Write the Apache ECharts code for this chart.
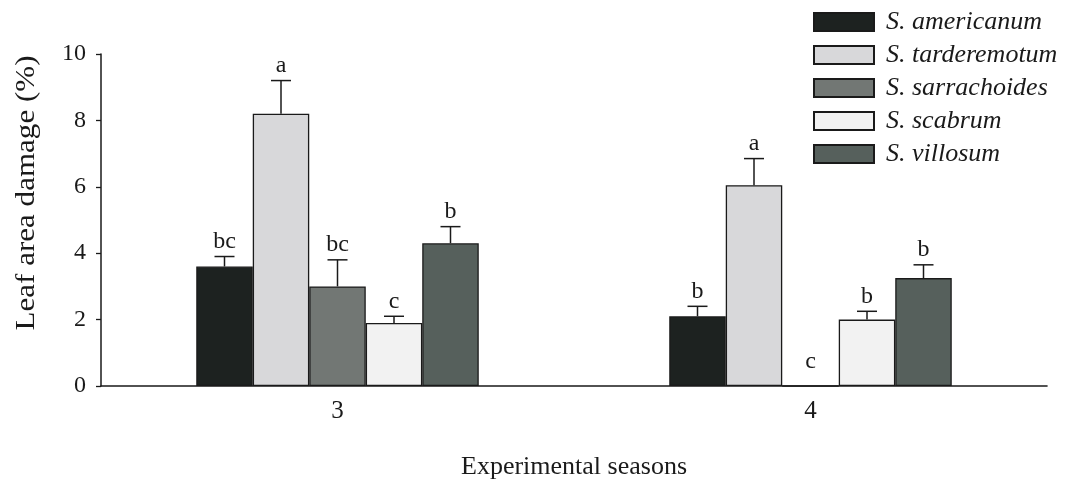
<!DOCTYPE html>
<html>
<head>
<meta charset="utf-8">
<script src="https://cdn.jsdelivr.net/npm/echarts@6/dist/echarts.min.js"></script>
<style>html,body{margin:0;padding:0;background:#fff}#c{width:1067px;height:481px}</style>
</head>
<body>
<div id="c"></div>
<script>
const categories = ['3', '4'];
const speciesNames = ['S. americanum', 'S. tarderemotum', 'S. sarrachoides', 'S. scabrum', 'S. villosum'];
const americanumMean = [3.6, 2.1];
const tarderemotumMean = [8.2, 6.05];
const sarrachoidesMean = [3.0, 0];
const scabrumMean = [1.9, 2.0];
const villosumMean = [4.3, 3.25];
const americanumErr = [0.3, 0.3];
const tarderemotumErr = [1.0, 0.8];
const sarrachoidesErr = [0.8, 0];
const scabrumErr = [0.2, 0.25];
const villosumErr = [0.5, 0.4];
const americanumLetters = ['bc', 'b'];
const tarderemotumLetters = ['a', 'a'];
const sarrachoidesLetters = ['bc', 'c'];
const scabrumLetters = ['c', 'b'];
const villosumLetters = ['b', 'b'];
const yTicks = [0, 2, 4, 6, 8, 10];

const means = [americanumMean, tarderemotumMean, sarrachoidesMean, scabrumMean, villosumMean];
const errs = [americanumErr, tarderemotumErr, sarrachoidesErr, scabrumErr, villosumErr];
const letters = [americanumLetters, tarderemotumLetters, sarrachoidesLetters, scabrumLetters, villosumLetters];
const colors = ['#1d2220', '#d8d8da', '#727774', '#f2f2f2', '#56605c'];
const BAR_W = 56.5;
const FONT = '"Liberation Serif", "DejaVu Serif", serif';

const series = [];
speciesNames.forEach((name, i) => {
  series.push({
    type: 'bar', name: name, data: means[i], barWidth: BAR_W, barGap: '0%',
    itemStyle: { color: colors[i], borderColor: '#1a1a1a', borderWidth: 1.3 },
    emphasis: { disabled: true }
  });
});
speciesNames.forEach((name, i) => {
  series.push({
    type: 'custom', name: name + ' err', z: 5,
    data: categories.map((c, k) => [k, means[i][k], means[i][k] + errs[i][k]]),
    renderItem: function (params, api) {
      const k = api.value(0);
      const top = api.coord([k, api.value(1)]);
      const hi = api.coord([k, api.value(2)]);
      const x = top[0] + (i - 2) * BAR_W;
      const children = [];
      if (errs[i][k] > 0) {
        children.push({ type: 'line', shape: { x1: x, y1: top[1], x2: x, y2: hi[1] }, style: { stroke: '#1a1a1a', lineWidth: 1.5 } });
        children.push({ type: 'line', shape: { x1: x - 10, y1: hi[1], x2: x + 10, y2: hi[1] }, style: { stroke: '#1a1a1a', lineWidth: 1.5 } });
      }
      const ty = errs[i][k] > 0 ? hi[1] - 3 : hi[1] - 12;
      children.push({ type: 'text', style: { x: x, y: ty, text: letters[i][params.dataIndex], align: 'center', verticalAlign: 'bottom', font: '24px ' + FONT, fill: '#1a1a1a' } });
      return { type: 'group', children: children };
    }
  });
});

const chart = echarts.init(document.getElementById('c'));
chart.setOption({
  animation: false,
  backgroundColor: '#fff',
  grid: { left: 101, right: 20, top: 54, bottom: 95, containLabel: false, outerBoundsMode: 'none' },
  legend: {
    data: speciesNames, orient: 'vertical', left: 813, top: 9, padding: 0,
    icon: 'rect', itemWidth: 60, itemHeight: 18, itemGap: 7, selectedMode: false,
    textStyle: { fontFamily: FONT, fontStyle: 'italic', fontSize: 26, color: '#1a1a1a', padding: [0, 0, 0, 7] }
  },
  xAxis: {
    type: 'category', data: categories,
    axisTick: { show: false },
    axisLine: { lineStyle: { color: '#1a1a1a', width: 1.6 } },
    axisLabel: { fontFamily: FONT, fontSize: 25, color: '#1a1a1a', margin: 13 },
    name: 'Experimental seasons', nameLocation: 'middle', nameGap: 68,
    nameTextStyle: { fontFamily: FONT, fontSize: 26, color: '#1a1a1a' }
  },
  yAxis: {
    type: 'value', min: yTicks[0], max: yTicks[yTicks.length - 1], interval: 2,
    splitLine: { show: false },
    axisLine: { show: true, lineStyle: { color: '#1a1a1a', width: 1.5 } },
    axisTick: { show: true, length: 5, lineStyle: { color: '#1a1a1a', width: 1.3 } },
    axisLabel: { fontFamily: FONT, fontSize: 24, color: '#1a1a1a', margin: 15 }
  },
  graphic: [{
    type: 'text', x: 27, y: 193, rotation: Math.PI / 2, scaleX: 1.15,
    style: { text: 'Leaf area damage (%)', align: 'center', verticalAlign: 'middle', font: '27px ' + FONT, fill: '#1a1a1a' }
  }],
  series: series
});
</script>
</body>
</html>
